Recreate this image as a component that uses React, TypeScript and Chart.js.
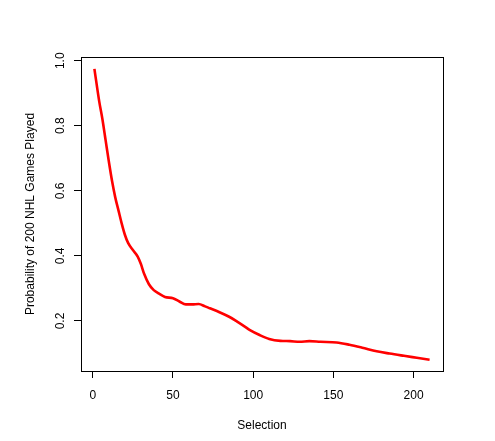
import React, { useEffect, useRef } from "react";
import { Chart, registerables } from "chart.js";

Chart.register(...registerables);

const selection = [
  1, 4, 6, 8, 10, 12, 14, 16, 18, 20, 22, 25, 28, 30, 32, 35, 38, 41, 45, 50,
  54, 58, 62, 66, 70, 73, 79, 85, 90, 95, 98, 104, 110, 117, 123, 129, 135,
  142, 152, 160, 168, 177, 185, 194, 202, 210,
];
const probability = [
  0.975, 0.875, 0.82, 0.755, 0.69, 0.63, 0.58, 0.54, 0.5, 0.465, 0.44, 0.418,
  0.398, 0.375, 0.345, 0.313, 0.295, 0.285, 0.274, 0.27, 0.26, 0.251, 0.251,
  0.252, 0.245, 0.239, 0.227, 0.213, 0.198, 0.182, 0.172, 0.157, 0.145, 0.139,
  0.138, 0.136, 0.138, 0.136, 0.134, 0.127, 0.118, 0.107, 0.1, 0.093, 0.087,
  0.081,
];
const xTicks = [0, 50, 100, 150, 200];
const yTicks = [0.2, 0.4, 0.6, 0.8, 1.0];
const xTitle = "Selection";
const yTitle = "Probability of 200 NHL Games Played";

const FONT = "'Liberation Sans', Arial, sans-serif";

const boxPlugin = {
  id: "rbox",
  afterDraw(chart: any) {
    const { ctx, chartArea } = chart;
    ctx.save();
    ctx.strokeStyle = "#000";
    ctx.lineWidth = 1;
    const l = Math.round(chartArea.left) + 0.5;
    const t = Math.round(chartArea.top) + 0.5;
    const r = Math.round(chartArea.right) + 0.5;
    const b = Math.round(chartArea.bottom) + 0.5;
    ctx.strokeRect(l, t, r - l, b - t);
    // rotated y tick labels (R style, las = 0)
    const ys = chart.scales.y;
    ctx.fillStyle = "#000";
    ctx.font = `12px ${FONT}`;
    ctx.textAlign = "center";
    ctx.textBaseline = "middle";
    for (const tk of ys.ticks) {
      const py = ys.getPixelForValue(tk.value);
      ctx.save();
      ctx.translate(61, py);
      ctx.rotate(-Math.PI / 2);
      ctx.fillText(Number(tk.value).toFixed(1), 0, 0);
      ctx.restore();
    }
    ctx.restore();
  },
};

export default function App() {
  const ref = useRef<HTMLCanvasElement>(null);
  useEffect(() => {
    if (!ref.current) return;
    const chart = new Chart(ref.current, {
      type: "line",
      data: {
        datasets: [
          {
            data: selection.map((s, i) => ({ x: s, y: probability[i] })),
            borderColor: "#ff0000",
            borderWidth: 2.6,
            pointRadius: 0,
            cubicInterpolationMode: "monotone",
            fill: false,
          },
        ],
      },
      options: {
        animation: false,
        responsive: false,
        events: [],
        layout: { padding: { top: 57, right: 52, left: 0, bottom: 0 } },
        plugins: {
          legend: { display: false },
          tooltip: { enabled: false },
        },
        scales: {
          x: {
            type: "linear",
            min: -7.36,
            max: 218.36,
            afterBuildTicks: (s: any) => {
              s.ticks = xTicks.map((v) => ({ value: v }));
            },
            afterFit: (s: any) => {
              s.height = 70;
            },
            grid: {
              display: true,
              drawOnChartArea: false,
              drawTicks: true,
              tickLength: 7,
              color: "#000",
              lineWidth: 1,
            },
            border: { display: false },
            ticks: {
              color: "#000",
              font: { family: FONT, size: 12 },
              padding: 10,
              maxRotation: 0,
              minRotation: 0,
              callback: (v: any) => String(v),
            },
            title: {
              display: true,
              text: xTitle,
              color: "#000",
              font: { family: FONT, size: 12 },
              padding: { top: 0, bottom: 8 },
            },
          },
          y: {
            type: "linear",
            min: 0.0463,
            max: 1.0114,
            afterBuildTicks: (s: any) => {
              s.ticks = yTicks.map((v) => ({ value: v }));
            },
            afterFit: (s: any) => {
              s.width = 81;
            },
            grid: {
              display: true,
              drawOnChartArea: false,
              drawTicks: true,
              tickLength: 7,
              color: "#000",
              lineWidth: 1,
            },
            border: { display: false },
            ticks: { display: false },
            title: {
              display: true,
              text: yTitle,
              color: "#000",
              font: { family: FONT, size: 12 },
              padding: { top: 23, bottom: 0 },
            },
          },
        },
      },
      plugins: [boxPlugin],
    } as any);
    return () => chart.destroy();
  }, []);
  return (
    <div style={{ position: "absolute", left: 0, top: 0, width: 495, height: 441, background: "#fff" }}>
      <canvas ref={ref} width={495} height={441} style={{ display: "block" }} />
    </div>
  );
}
